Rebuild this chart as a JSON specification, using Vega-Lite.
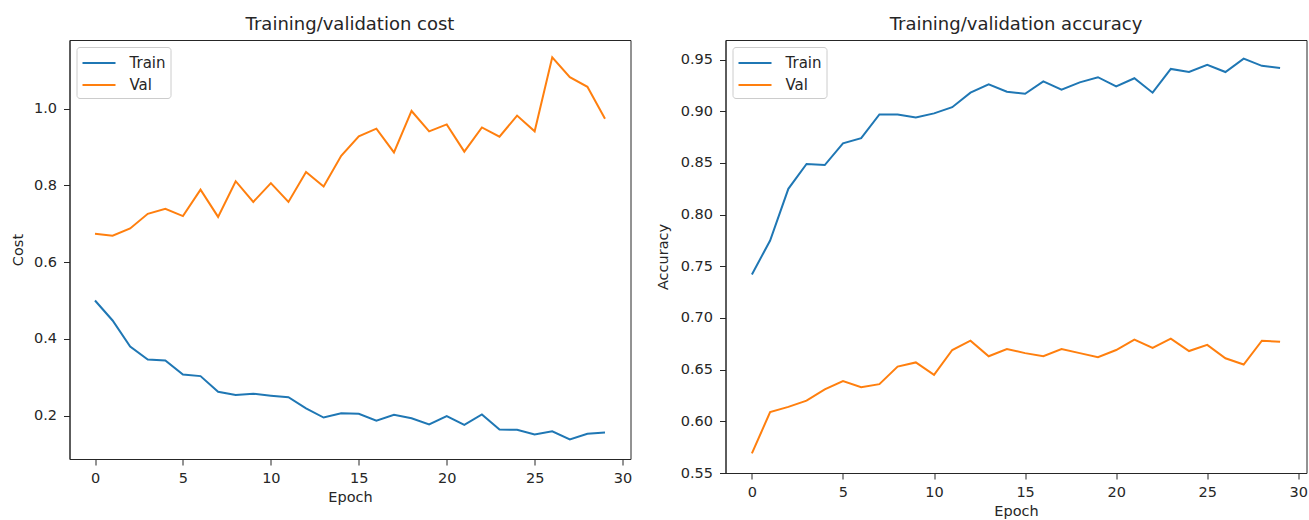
{
  "$schema": "https://vega.github.io/schema/vega-lite/v6.json",
  "padding": {"left": 9.5, "top": 15, "right": 0, "bottom": 0},
  "background": "white",
  "datasets": {
    "cost": [
      {"epoch": 0, "Train": 0.500, "Val": 0.674},
      {"epoch": 1, "Train": 0.448, "Val": 0.669},
      {"epoch": 2, "Train": 0.380, "Val": 0.688},
      {"epoch": 3, "Train": 0.346, "Val": 0.726},
      {"epoch": 4, "Train": 0.344, "Val": 0.739},
      {"epoch": 5, "Train": 0.307, "Val": 0.720},
      {"epoch": 6, "Train": 0.303, "Val": 0.789},
      {"epoch": 7, "Train": 0.262, "Val": 0.718},
      {"epoch": 8, "Train": 0.254, "Val": 0.811},
      {"epoch": 9, "Train": 0.257, "Val": 0.757},
      {"epoch": 10, "Train": 0.252, "Val": 0.806},
      {"epoch": 11, "Train": 0.248, "Val": 0.757},
      {"epoch": 12, "Train": 0.219, "Val": 0.835},
      {"epoch": 13, "Train": 0.195, "Val": 0.797},
      {"epoch": 14, "Train": 0.206, "Val": 0.877},
      {"epoch": 15, "Train": 0.205, "Val": 0.928},
      {"epoch": 16, "Train": 0.187, "Val": 0.948},
      {"epoch": 17, "Train": 0.202, "Val": 0.886},
      {"epoch": 18, "Train": 0.193, "Val": 0.994},
      {"epoch": 19, "Train": 0.177, "Val": 0.941},
      {"epoch": 20, "Train": 0.199, "Val": 0.959},
      {"epoch": 21, "Train": 0.176, "Val": 0.888},
      {"epoch": 22, "Train": 0.203, "Val": 0.951},
      {"epoch": 23, "Train": 0.164, "Val": 0.927},
      {"epoch": 24, "Train": 0.163, "Val": 0.982},
      {"epoch": 25, "Train": 0.151, "Val": 0.941},
      {"epoch": 26, "Train": 0.159, "Val": 1.134},
      {"epoch": 27, "Train": 0.138, "Val": 1.082},
      {"epoch": 28, "Train": 0.153, "Val": 1.057},
      {"epoch": 29, "Train": 0.156, "Val": 0.974}
    ],
    "acc": [
      {"epoch": 0, "Train": 0.742, "Val": 0.569},
      {"epoch": 1, "Train": 0.775, "Val": 0.609},
      {"epoch": 2, "Train": 0.825, "Val": 0.614},
      {"epoch": 3, "Train": 0.849, "Val": 0.620},
      {"epoch": 4, "Train": 0.848, "Val": 0.631},
      {"epoch": 5, "Train": 0.869, "Val": 0.639},
      {"epoch": 6, "Train": 0.874, "Val": 0.633},
      {"epoch": 7, "Train": 0.897, "Val": 0.636},
      {"epoch": 8, "Train": 0.897, "Val": 0.653},
      {"epoch": 9, "Train": 0.894, "Val": 0.657},
      {"epoch": 10, "Train": 0.898, "Val": 0.645},
      {"epoch": 11, "Train": 0.904, "Val": 0.669},
      {"epoch": 12, "Train": 0.918, "Val": 0.678},
      {"epoch": 13, "Train": 0.926, "Val": 0.663},
      {"epoch": 14, "Train": 0.919, "Val": 0.670},
      {"epoch": 15, "Train": 0.917, "Val": 0.666},
      {"epoch": 16, "Train": 0.929, "Val": 0.663},
      {"epoch": 17, "Train": 0.921, "Val": 0.670},
      {"epoch": 18, "Train": 0.928, "Val": 0.666},
      {"epoch": 19, "Train": 0.933, "Val": 0.662},
      {"epoch": 20, "Train": 0.924, "Val": 0.669},
      {"epoch": 21, "Train": 0.932, "Val": 0.679},
      {"epoch": 22, "Train": 0.918, "Val": 0.671},
      {"epoch": 23, "Train": 0.941, "Val": 0.680},
      {"epoch": 24, "Train": 0.938, "Val": 0.668},
      {"epoch": 25, "Train": 0.945, "Val": 0.674},
      {"epoch": 26, "Train": 0.938, "Val": 0.661},
      {"epoch": 27, "Train": 0.951, "Val": 0.655},
      {"epoch": 28, "Train": 0.944, "Val": 0.678},
      {"epoch": 29, "Train": 0.942, "Val": 0.677}
    ]
  },
  "config": {
    "font": "DejaVu Sans",
    "view": {"stroke": "#262626", "strokeWidth": 1},
    "axis": {
      "grid": false,
      "domainColor": "#262626",
      "tickColor": "#262626",
      "tickSize": 6,
      "labelFont": "DejaVu Sans",
      "labelFontSize": 14.5,
      "labelColor": "#262626",
      "titleFont": "DejaVu Sans",
      "titleFontSize": 14.5,
      "titleFontWeight": "normal",
      "titleColor": "#262626"
    },
    "axisX": {"labelPadding": 6, "titlePadding": 6},
    "axisY": {"labelPadding": 7},
    "title": {"font": "DejaVu Sans", "fontSize": 18, "fontWeight": "normal", "color": "#262626", "offset": 6},
    "legend": {
      "orient": "top-left",
      "offset": 7,
      "title": null,
      "symbolType": "M-1,0H2.3",
      "symbolStrokeWidth": 2,
      "symbolSize": 400,
      "labelFont": "DejaVu Sans",
      "labelFontSize": 15,
      "labelColor": "#262626",
      "strokeColor": "#cccccc",
      "fillColor": "white",
      "padding": 5,
      "cornerRadius": 3,
      "rowPadding": 3,
      "labelOffset": 26
    }
  },
  "spacing": 22,
  "hconcat": [
    {
      "title": "Training/validation cost",
      "width": 561,
      "height": 419,
      "data": {"name": "cost"},
      "transform": [{"fold": ["Train", "Val"], "as": ["series", "value"]}],
      "mark": {"type": "line", "strokeWidth": 2},
      "encoding": {
        "x": {"field": "epoch", "type": "quantitative", "title": "Epoch",
              "scale": {"domain": [-1.45, 30.45], "nice": false, "zero": false},
              "axis": {"values": [0, 5, 10, 15, 20, 25, 30], "format": "d"}},
        "y": {"field": "value", "type": "quantitative", "title": "Cost",
              "scale": {"domain": [0.087, 1.179], "nice": false, "zero": false},
              "axis": {"values": [0.2, 0.4, 0.6, 0.8, 1.0], "format": ".1f", "titlePadding": 8}},
        "color": {"field": "series", "type": "nominal",
                  "scale": {"domain": ["Train", "Val"], "range": ["#1f77b4", "#ff7f0e"]}}
      }
    },
    {
      "title": "Training/validation accuracy",
      "width": 581,
      "height": 433,
      "data": {"name": "acc"},
      "transform": [{"fold": ["Train", "Val"], "as": ["series", "value"]}],
      "mark": {"type": "line", "strokeWidth": 2},
      "encoding": {
        "x": {"field": "epoch", "type": "quantitative", "title": "Epoch",
              "scale": {"domain": [-1.45, 30.45], "nice": false, "zero": false},
              "axis": {"values": [0, 5, 10, 15, 20, 25, 30], "format": "d"}},
        "y": {"field": "value", "type": "quantitative", "title": "Accuracy",
              "scale": {"domain": [0.55, 0.969], "nice": false, "zero": false},
              "axis": {"values": [0.55, 0.6, 0.65, 0.7, 0.75, 0.8, 0.85, 0.9, 0.95], "format": ".2f", "titlePadding": 10}},
        "color": {"field": "series", "type": "nominal",
                  "scale": {"domain": ["Train", "Val"], "range": ["#1f77b4", "#ff7f0e"]}}
      }
    }
  ],
  "resolve": {"scale": {"color": "independent"}, "legend": {"color": "independent"}}
}
